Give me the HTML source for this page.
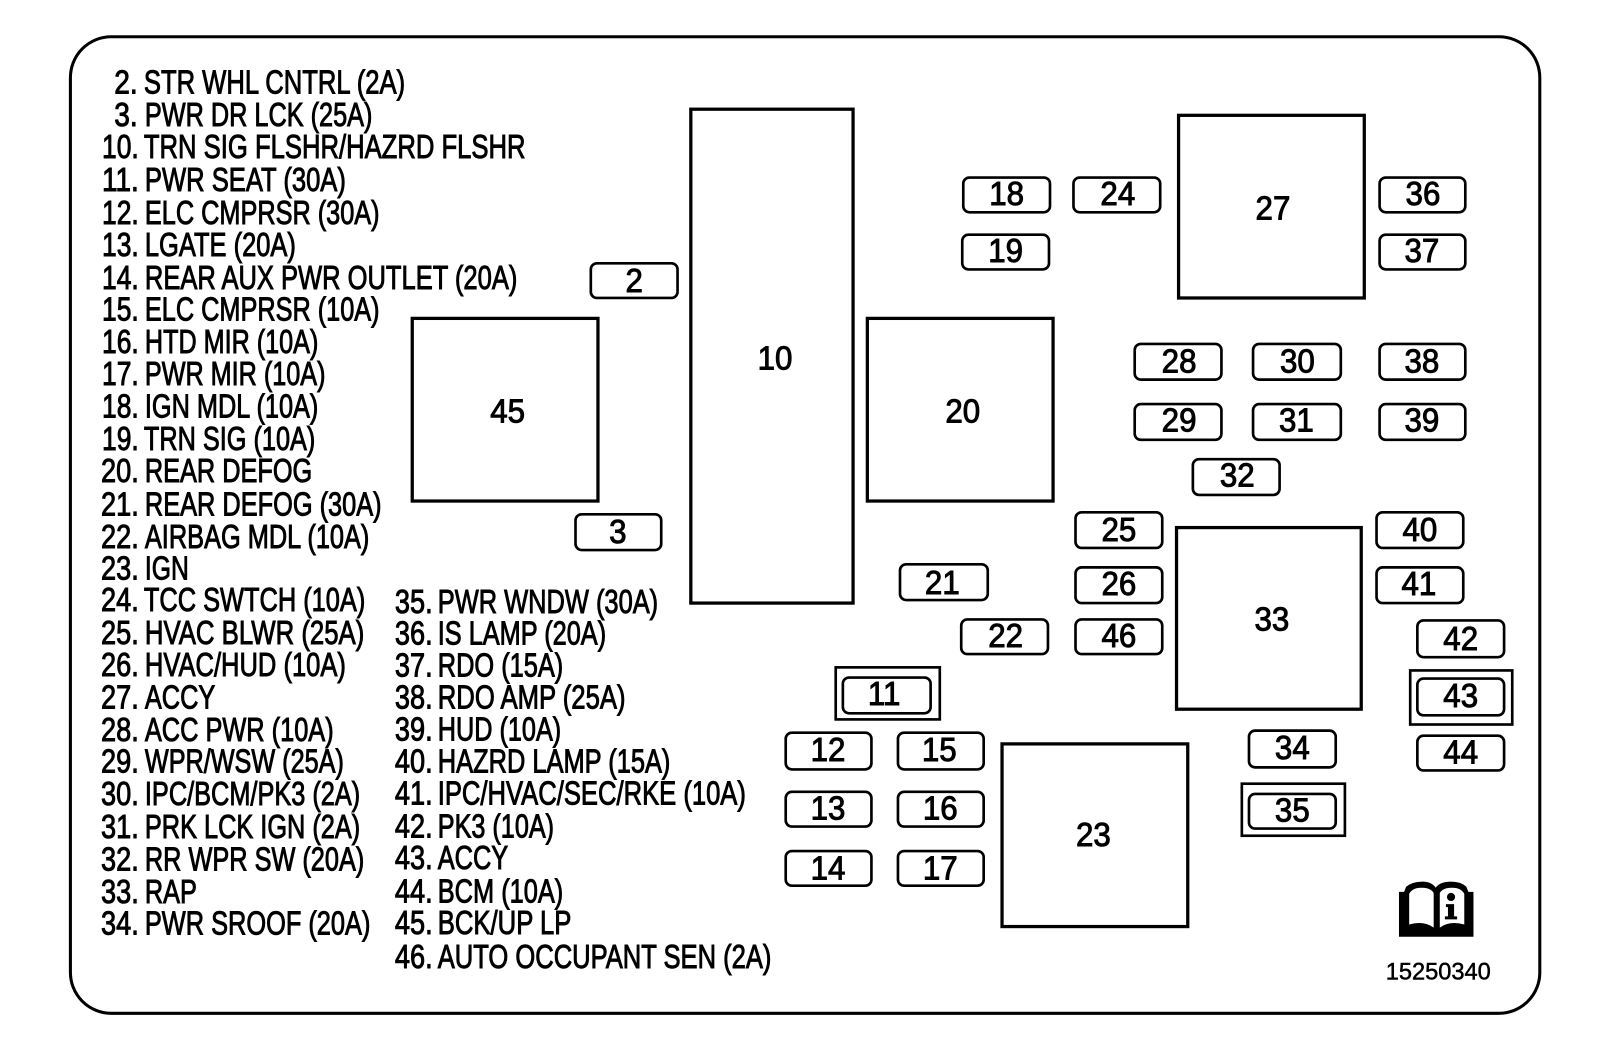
<!DOCTYPE html>
<html>
<head>
<meta charset="utf-8">
<style>
html,body{margin:0;padding:0;background:#fff}
svg{display:block}
text{font-family:"Liberation Sans",Arial,sans-serif;fill:#000;stroke:#000;stroke-width:.95px}
.l{font-size:33px}
.n{font-size:33px;text-anchor:middle;transform-box:fill-box;transform-origin:center;transform:translate(.5px,-1px) scaleX(.93)}
rect,.f{fill:none;stroke:#000}
.b{stroke-width:3.2}
.o{stroke-width:2.6}
.r{stroke-width:2.6}
</style>
</head>
<body>
<svg width="1600" height="1048" viewBox="0 0 1568 1027" xmlns="http://www.w3.org/2000/svg">
<rect width="1568" height="1027" style="fill:#fff;stroke:none"/>
<rect x="69" y="36" width="1440" height="957" rx="40" ry="40" stroke-width="3"/>

<g>
<text class="l" x="112" y="91.5" textLength="23" lengthAdjust="spacingAndGlyphs">2.</text><text class="l" x="141" y="91.5" textLength="256" lengthAdjust="spacingAndGlyphs">STR WHL CNTRL (2A)</text>
<text class="l" x="112" y="123.5" textLength="23" lengthAdjust="spacingAndGlyphs">3.</text><text class="l" x="142" y="123.5" textLength="223" lengthAdjust="spacingAndGlyphs">PWR DR LCK (25A)</text>
<text class="l" x="100" y="155" textLength="36" lengthAdjust="spacingAndGlyphs">10.</text><text class="l" x="141" y="155" textLength="374" lengthAdjust="spacingAndGlyphs">TRN SIG FLSHR/HAZRD FLSHR</text>
<text class="l" x="100" y="187" textLength="36" lengthAdjust="spacingAndGlyphs">11.</text><text class="l" x="142" y="187" textLength="197" lengthAdjust="spacingAndGlyphs">PWR SEAT (30A)</text>
<text class="l" x="100" y="219.5" textLength="36" lengthAdjust="spacingAndGlyphs">12.</text><text class="l" x="142" y="219.5" textLength="230" lengthAdjust="spacingAndGlyphs">ELC CMPRSR (30A)</text>
<text class="l" x="100" y="251" textLength="36" lengthAdjust="spacingAndGlyphs">13.</text><text class="l" x="142" y="251" textLength="148" lengthAdjust="spacingAndGlyphs">LGATE (20A)</text>
<text class="l" x="100" y="283" textLength="36" lengthAdjust="spacingAndGlyphs">14.</text><text class="l" x="142" y="283" textLength="365" lengthAdjust="spacingAndGlyphs">REAR AUX PWR OUTLET (20A)</text>
<text class="l" x="100" y="314" textLength="36" lengthAdjust="spacingAndGlyphs">15.</text><text class="l" x="142" y="314" textLength="230" lengthAdjust="spacingAndGlyphs">ELC CMPRSR (10A)</text>
<text class="l" x="100" y="346" textLength="36" lengthAdjust="spacingAndGlyphs">16.</text><text class="l" x="142" y="346" textLength="170" lengthAdjust="spacingAndGlyphs">HTD MIR (10A)</text>
<text class="l" x="100" y="377.5" textLength="36" lengthAdjust="spacingAndGlyphs">17.</text><text class="l" x="142" y="377.5" textLength="177" lengthAdjust="spacingAndGlyphs">PWR MIR (10A)</text>
<text class="l" x="100" y="409" textLength="36" lengthAdjust="spacingAndGlyphs">18.</text><text class="l" x="142" y="409" textLength="170" lengthAdjust="spacingAndGlyphs">IGN MDL (10A)</text>
<text class="l" x="100" y="441" textLength="36" lengthAdjust="spacingAndGlyphs">19.</text><text class="l" x="141" y="441" textLength="168" lengthAdjust="spacingAndGlyphs">TRN SIG (10A)</text>
<text class="l" x="99" y="472.5" textLength="37" lengthAdjust="spacingAndGlyphs">20.</text><text class="l" x="142" y="472.5" textLength="164" lengthAdjust="spacingAndGlyphs">REAR DEFOG</text>
<text class="l" x="99" y="505" textLength="37" lengthAdjust="spacingAndGlyphs">21.</text><text class="l" x="142" y="505" textLength="232" lengthAdjust="spacingAndGlyphs">REAR DEFOG (30A)</text>
<text class="l" x="99" y="537" textLength="37" lengthAdjust="spacingAndGlyphs">22.</text><text class="l" x="142" y="537" textLength="220" lengthAdjust="spacingAndGlyphs">AIRBAG MDL (10A)</text>
<text class="l" x="99" y="568" textLength="37" lengthAdjust="spacingAndGlyphs">23.</text><text class="l" x="142" y="568" textLength="43" lengthAdjust="spacingAndGlyphs">IGN</text>
<text class="l" x="99" y="599" textLength="37" lengthAdjust="spacingAndGlyphs">24.</text><text class="l" x="141" y="599" textLength="217" lengthAdjust="spacingAndGlyphs">TCC SWTCH (10A)</text>
<text class="l" x="99" y="631" textLength="37" lengthAdjust="spacingAndGlyphs">25.</text><text class="l" x="142" y="631" textLength="215" lengthAdjust="spacingAndGlyphs">HVAC BLWR (25A)</text>
<text class="l" x="99" y="662.5" textLength="37" lengthAdjust="spacingAndGlyphs">26.</text><text class="l" x="142" y="662.5" textLength="197" lengthAdjust="spacingAndGlyphs">HVAC/HUD (10A)</text>
<text class="l" x="99" y="694.5" textLength="37" lengthAdjust="spacingAndGlyphs">27.</text><text class="l" x="142" y="694.5" textLength="69" lengthAdjust="spacingAndGlyphs">ACCY</text>
<text class="l" x="99" y="726" textLength="37" lengthAdjust="spacingAndGlyphs">28.</text><text class="l" x="142" y="726" textLength="185" lengthAdjust="spacingAndGlyphs">ACC PWR (10A)</text>
<text class="l" x="99" y="757" textLength="37" lengthAdjust="spacingAndGlyphs">29.</text><text class="l" x="142" y="757" textLength="195" lengthAdjust="spacingAndGlyphs">WPR/WSW (25A)</text>
<text class="l" x="99" y="789" textLength="37" lengthAdjust="spacingAndGlyphs">30.</text><text class="l" x="142" y="789" textLength="211" lengthAdjust="spacingAndGlyphs">IPC/BCM/PK3 (2A)</text>
<text class="l" x="99" y="821" textLength="37" lengthAdjust="spacingAndGlyphs">31.</text><text class="l" x="142" y="821" textLength="211" lengthAdjust="spacingAndGlyphs">PRK LCK IGN (2A)</text>
<text class="l" x="99" y="853" textLength="37" lengthAdjust="spacingAndGlyphs">32.</text><text class="l" x="142" y="853" textLength="215" lengthAdjust="spacingAndGlyphs">RR WPR SW (20A)</text>
<text class="l" x="99" y="885" textLength="37" lengthAdjust="spacingAndGlyphs">33.</text><text class="l" x="142" y="885" textLength="51" lengthAdjust="spacingAndGlyphs">RAP</text>
<text class="l" x="99" y="916" textLength="37" lengthAdjust="spacingAndGlyphs">34.</text><text class="l" x="142" y="916" textLength="221" lengthAdjust="spacingAndGlyphs">PWR SROOF (20A)</text>

<text class="l" x="387" y="600.5" textLength="37" lengthAdjust="spacingAndGlyphs">35.</text><text class="l" x="429" y="600.5" textLength="216" lengthAdjust="spacingAndGlyphs">PWR WNDW (30A)</text>
<text class="l" x="387" y="631.5" textLength="37" lengthAdjust="spacingAndGlyphs">36.</text><text class="l" x="429" y="631.5" textLength="165" lengthAdjust="spacingAndGlyphs">IS LAMP (20A)</text>
<text class="l" x="387" y="663" textLength="37" lengthAdjust="spacingAndGlyphs">37.</text><text class="l" x="429" y="663" textLength="123" lengthAdjust="spacingAndGlyphs">RDO (15A)</text>
<text class="l" x="387" y="694.5" textLength="37" lengthAdjust="spacingAndGlyphs">38.</text><text class="l" x="429" y="694.5" textLength="184" lengthAdjust="spacingAndGlyphs">RDO AMP (25A)</text>
<text class="l" x="387" y="725.5" textLength="37" lengthAdjust="spacingAndGlyphs">39.</text><text class="l" x="429" y="725.5" textLength="121" lengthAdjust="spacingAndGlyphs">HUD (10A)</text>
<text class="l" x="387" y="757" textLength="37" lengthAdjust="spacingAndGlyphs">40.</text><text class="l" x="429" y="757" textLength="228" lengthAdjust="spacingAndGlyphs">HAZRD LAMP (15A)</text>
<text class="l" x="387" y="788.5" textLength="37" lengthAdjust="spacingAndGlyphs">41.</text><text class="l" x="429" y="788.5" textLength="302" lengthAdjust="spacingAndGlyphs">IPC/HVAC/SEC/RKE (10A)</text>
<text class="l" x="387" y="820.5" textLength="37" lengthAdjust="spacingAndGlyphs">42.</text><text class="l" x="429" y="820.5" textLength="114" lengthAdjust="spacingAndGlyphs">PK3 (10A)</text>
<text class="l" x="387" y="851.5" textLength="37" lengthAdjust="spacingAndGlyphs">43.</text><text class="l" x="429" y="851.5" textLength="69" lengthAdjust="spacingAndGlyphs">ACCY</text>
<text class="l" x="387" y="884.5" textLength="37" lengthAdjust="spacingAndGlyphs">44.</text><text class="l" x="429" y="884.5" textLength="123" lengthAdjust="spacingAndGlyphs">BCM (10A)</text>
<text class="l" x="387" y="915.5" textLength="37" lengthAdjust="spacingAndGlyphs">45.</text><text class="l" x="429" y="915.5" textLength="131" lengthAdjust="spacingAndGlyphs">BCK/UP LP</text>
<text class="l" x="387" y="948.5" textLength="37" lengthAdjust="spacingAndGlyphs">46.</text><text class="l" x="429" y="948.5" textLength="327" lengthAdjust="spacingAndGlyphs">AUTO OCCUPANT SEN (2A)</text>
</g>

<rect class="b" x="677" y="107" width="159" height="484"/>
<rect class="b" x="1155" y="113" width="182" height="179"/>
<rect class="b" x="404" y="312" width="182" height="179"/>
<rect class="b" x="850" y="312" width="182" height="179"/>
<rect class="b" x="1153" y="517" width="181" height="178"/>
<rect class="b" x="982" y="729" width="182" height="179"/>
<text class="n" x="759" y="363">10</text>
<text class="n" x="1247" y="216">27</text>
<text class="n" x="497" y="415">45</text>
<text class="n" x="943" y="415">20</text>
<text class="n" x="1246" y="619">33</text>
<text class="n" x="1071" y="830">23</text>

<rect class="o" x="819" y="654" width="102" height="51"/>
<rect class="o" x="1382" y="657" width="100" height="53"/>
<rect class="o" x="1217" y="768" width="101" height="51"/>

<rect class="r" x="579" y="258" width="85" height="34" rx="6"/><text class="n" x="621" y="287">2</text>
<rect class="r" x="564" y="504" width="84" height="35" rx="6"/><text class="n" x="605" y="533">3</text>
<rect class="r" x="944" y="174" width="85" height="34" rx="6"/><text class="n" x="986" y="202">18</text>
<rect class="r" x="943" y="230" width="85" height="34" rx="6"/><text class="n" x="985" y="258">19</text>
<rect class="r" x="1052" y="174" width="85" height="34" rx="6"/><text class="n" x="1095" y="202">24</text>
<rect class="r" x="1352" y="174" width="84" height="34" rx="6"/><text class="n" x="1394" y="202">36</text>
<rect class="r" x="1352" y="230" width="84" height="34" rx="6"/><text class="n" x="1393" y="258">37</text>
<rect class="r" x="1112" y="337" width="85" height="35" rx="6"/><text class="n" x="1155" y="366">28</text>
<rect class="r" x="1228" y="337" width="86" height="35" rx="6"/><text class="n" x="1271" y="366">30</text>
<rect class="r" x="1352" y="337" width="84" height="35" rx="6"/><text class="n" x="1393" y="366">38</text>
<rect class="r" x="1112" y="396" width="85" height="35" rx="6"/><text class="n" x="1155" y="424">29</text>
<rect class="r" x="1228" y="396" width="86" height="35" rx="6"/><text class="n" x="1270" y="424">31</text>
<rect class="r" x="1352" y="396" width="84" height="35" rx="6"/><text class="n" x="1393" y="424">39</text>
<rect class="r" x="1169" y="450" width="85" height="35" rx="6"/><text class="n" x="1212" y="478">32</text>
<rect class="r" x="1054" y="502" width="85" height="35" rx="6"/><text class="n" x="1096" y="531">25</text>
<rect class="r" x="1054" y="556" width="85" height="35" rx="6"/><text class="n" x="1096" y="584">26</text>
<rect class="r" x="1054" y="607" width="85" height="34" rx="6"/><text class="n" x="1096" y="635">46</text>
<rect class="r" x="882" y="553" width="86" height="35" rx="6"/><text class="n" x="923" y="583">21</text>
<rect class="r" x="942" y="607" width="85" height="34" rx="6"/><text class="n" x="985" y="635">22</text>
<rect class="r" x="1349" y="502" width="85" height="35" rx="6"/><text class="n" x="1391" y="531">40</text>
<rect class="r" x="1349" y="556" width="85" height="35" rx="6"/><text class="n" x="1390" y="584">41</text>
<rect class="r" x="1389" y="608" width="85" height="36" rx="6"/><text class="n" x="1431" y="638">42</text>
<rect class="r" x="1389" y="665" width="85" height="36" rx="6"/><text class="n" x="1431" y="694">43</text>
<rect class="r" x="1389" y="721" width="85" height="34" rx="6"/><text class="n" x="1431" y="749">44</text>
<rect class="r" x="826" y="664" width="86" height="35" rx="6"/><text class="n" x="866" y="692">11</text>
<rect class="r" x="770" y="718" width="84" height="36" rx="6"/><text class="n" x="811" y="747">12</text>
<rect class="r" x="770" y="776" width="84" height="34" rx="6"/><text class="n" x="811" y="804">13</text>
<rect class="r" x="770" y="834" width="84" height="34" rx="6"/><text class="n" x="811" y="863">14</text>
<rect class="r" x="880" y="718" width="84" height="36" rx="6"/><text class="n" x="920" y="747">15</text>
<rect class="r" x="880" y="776" width="84" height="34" rx="6"/><text class="n" x="921" y="804">16</text>
<rect class="r" x="880" y="834" width="84" height="34" rx="6"/><text class="n" x="921" y="863">17</text>
<rect class="r" x="1224" y="716" width="85" height="36" rx="6"/><text class="n" x="1266" y="745">34</text>
<rect class="r" x="1224" y="778" width="85" height="34" rx="6"/><text class="n" x="1266" y="806">35</text>

<path d="M1371,918 V874 H1376 L1378,869 Q1384,864 1394,864 Q1403,864 1407,870 Q1411,864 1422,864 Q1432,864 1437,869 L1439,874 H1444 V918 Z" style="fill:#000;stroke:none"/>
<path d="M1381,906 V876 Q1384,870 1393,870 Q1402,870 1405,875 V909 Q1395,902 1381,906 Z" style="fill:#fff;stroke:none"/>
<path d="M1411,909 V875 Q1414,870 1423,870 Q1432,870 1435,876 V906 Q1421,902 1411,909 Z" style="fill:#fff;stroke:none"/>
<circle cx="1422" cy="879" r="4" style="fill:#000"/>
<path d="M1417,886 H1425 V898 H1428 V901 H1416 V898 H1419 V889 H1417 Z" style="fill:#000;stroke:none"/>
<text x="1358" y="960" font-size="24" textLength="103" lengthAdjust="spacingAndGlyphs" style="stroke-width:.5">15250340</text>
</svg>
</body>
</html>
